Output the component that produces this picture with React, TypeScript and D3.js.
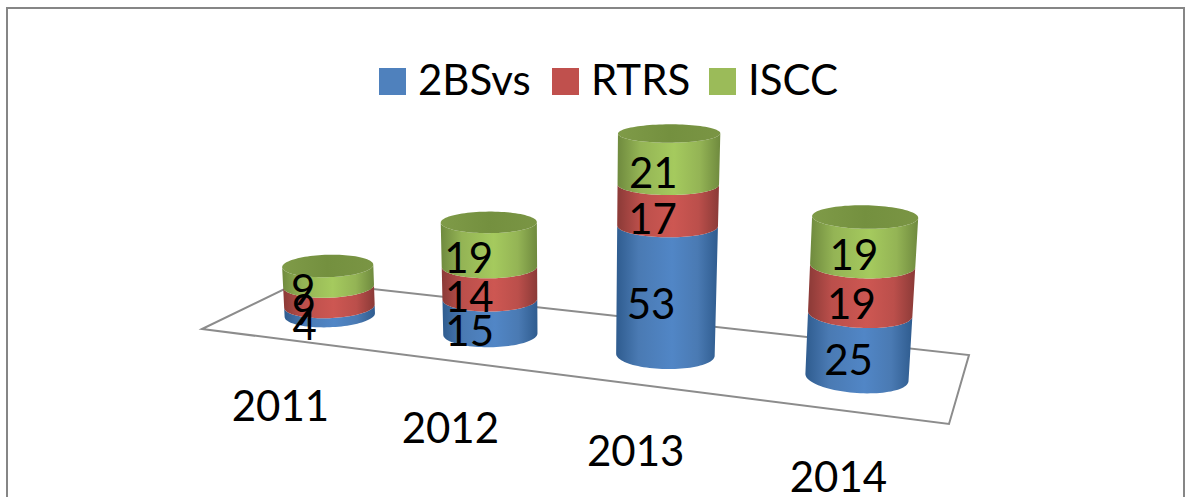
import React from 'react';
import * as d3 from 'd3';

// Chart data
const years = ['2011', '2012', '2013', '2014'];
const seriesNames = ['2BSvs', 'RTRS', 'ISCC'];
const bsvsValues = [4, 15, 53, 25];
const rtrsValues = [9, 14, 17, 19];
const isccValues = [9, 19, 21, 19];

const WIDTH = 1186;
const HEIGHT = 497;

// Palette per series: edge, body, highlight, lid
const palette = [
  { key: 'blue', edge: '#2f5c8f', body: '#4a7ab3', light: '#5186c6', swatch: '#4f81bd' },
  { key: 'red', edge: '#8b3a37', body: '#bb4f4b', light: '#cd5752', swatch: '#c0504d' },
  { key: 'green', edge: '#6f8a3e', body: '#94b455', light: '#a5ca5e', swatch: '#9bbb59' },
];

// Floor corners in screen space, used to build the perspective mapping
const floor = [
  [202, 329],
  [949, 424],
  [969, 355],
  [301, 281],
];

const makeHomography = (p: number[][]) => {
  const [[x0, y0], [x1, y1], [x2, y2], [x3, y3]] = p;
  const dx1 = x1 - x2;
  const dx2 = x3 - x2;
  const dy1 = y1 - y2;
  const dy2 = y3 - y2;
  const sx = x0 - x1 + x2 - x3;
  const sy = y0 - y1 + y2 - y3;
  const den = dx1 * dy2 - dx2 * dy1;
  const g = (sx * dy2 - dx2 * sy) / den;
  const h = (dx1 * sy - sx * dy1) / den;
  const a = x1 - x0 + g * x1;
  const b = x3 - x0 + h * x3;
  const d = y1 - y0 + g * y1;
  const e = y3 - y0 + h * y3;
  return (u: number, v: number) => {
    const w = g * u + h * v + 1;
    return { x: (a * u + b * v + x0) / w, y: (d * u + e * v + y0) / w, scale: 1 / w };
  };
};

const toScreen = makeHomography(floor);

const uScale = d3.scaleBand<string>().domain(years).range([0, 1]);
const heightScale = d3.scaleLinear().domain([0, 100]).range([0, 232]);
const radiusScale = 47;
const BASE_DROP = 2.5;
const FONT_SIZE = 42;

// Vertical lines converge to a vanishing point far below the chart
const VANISH_X = 570;
const VANISH_Y = 6000;

const ringAt = (cx: number, baseY: number, r: number, h: number) => {
  const y = baseY - h;
  const f = (VANISH_Y - baseY) / (VANISH_Y - y);
  const k = 1 / f;
  const x = VANISH_X + (cx - VANISH_X) * k;
  const rx = r * k;
  const ry = rx * (0.18 + (y - 134) * 0.0005);
  const tilt = (x - VANISH_X) * (y - 168) * 1.1e-6;
  return { x, y, rx, ry, tilt };
};

type Ring = ReturnType<typeof ringAt>;

const arcPoint = (ring: Ring, t: number): [number, number] => {
  const px = ring.rx * Math.cos(t);
  return [ring.x + px, ring.y + ring.ry * Math.sin(t) + px * ring.tilt];
};

const sweep = d3.range(0, 49).map(i => (i / 48) * Math.PI);
const fullSweep = d3.range(0, 97).map(i => (i / 48) * Math.PI);
const pathGen = d3.line();

const stackRows = years.map((year, i) => ({
  year,
  s0: bsvsValues[i],
  s1: rtrsValues[i],
  s2: isccValues[i],
}));
const stacked = d3.stack<any>().keys(['s0', 's1', 's2'])(stackRows);

const labelX = d3.scaleLinear().domain([328, 857]).range([278.5, 838.5]);
const labelDrop = d3.scaleLinear().domain([316, 378]).range([106, 115]);
const valueShift = d3.scaleLinear().domain([328, 857]).range([-25, -10]);

const legendSwatchX = [379, 552, 709];

const App: React.FC = () => {
  const bars = years.map((year, i) => {
    const p = toScreen((uScale(year) as number) + uScale.bandwidth() / 2, 0.5);
    const base = { ...p, y: p.y + BASE_DROP };
    return { year, i, base, r: radiusScale * base.scale };
  });

  return (
    <svg
      width={WIDTH}
      height={HEIGHT}
      style={{ position: 'absolute', left: 0, top: 0, display: 'block', fontFamily: 'Lato, sans-serif' }}
    >
      <defs>
        {palette.map(c => (
          <linearGradient key={c.key} id={`side-${c.key}`} x1="0" x2="1" y1="0" y2="0">
            <stop offset="0" stopColor={c.edge} />
            <stop offset="0.22" stopColor={c.body} />
            <stop offset="0.55" stopColor={c.light} />
            <stop offset="0.8" stopColor={c.body} />
            <stop offset="1" stopColor={c.edge} />
          </linearGradient>
        ))}
        <linearGradient id="lid" x1="0" x2="1" y1="0" y2="0">
          <stop offset="0" stopColor="#7f9b48" />
          <stop offset="0.5" stopColor="#74903f" />
          <stop offset="1" stopColor="#7a9544" />
        </linearGradient>
      </defs>

      <rect x={0} y={0} width={WIDTH} height={HEIGHT} fill="#ffffff" />
      <rect x={7} y={8} width={1177} height={HEIGHT} fill="none" stroke="#868686" strokeWidth={2} />

      <path
        d={(pathGen(floor as [number, number][]) as string) + 'Z'}
        fill="none"
        stroke="#8c8c8c"
        strokeWidth={2}
      />

      {bars.map(({ year, i, base, r }) => {
        const k = base.scale;
        const lidRing = ringAt(base.x, base.y, r, heightScale(stacked[2][i][1]) * k);
        return (
          <g key={year}>
            {stacked.map((layer, s) => {
              const low = ringAt(base.x, base.y, r, heightScale(layer[i][0]) * k);
              const high = ringAt(base.x, base.y, r, heightScale(layer[i][1]) * k);
              const outline = [
                ...sweep.map(t => arcPoint(low, t)),
                ...sweep.slice().reverse().map(t => arcPoint(high, t)),
              ];
              return (
                <path
                  key={seriesNames[s]}
                  d={(pathGen(outline) as string) + 'Z'}
                  fill={`url(#side-${palette[s].key})`}
                />
              );
            })}
            <path d={(pathGen(fullSweep.map(t => arcPoint(lidRing, t))) as string) + 'Z'} fill="url(#lid)" />
          </g>
        );
      })}

      {bars.map(({ year, i, base, r }) => {
        const k = base.scale;
        return stacked.map((layer, s) => {
          const mid = ringAt(base.x, base.y, r, (heightScale(layer[i][0]) + heightScale(layer[i][1])) * 0.5 * k);
          return (
            <text
              key={`${year}-${s}`}
              x={mid.x + valueShift(base.x)}
              y={mid.y + 29}
              textAnchor="middle"
              fontSize={FONT_SIZE}
              fill="#000000"
            >
              {layer[i][1] - layer[i][0]}
            </text>
          );
        });
      })}

      {bars.map(({ year, base }) => (
        <text
          key={year}
          x={labelX(base.x)}
          y={base.y + labelDrop(base.y)}
          textAnchor="middle"
          fontSize={FONT_SIZE}
          fill="#000000"
        >
          {year}
        </text>
      ))}

      {seriesNames.map((name, s) => (
        <g key={name} transform={`translate(${legendSwatchX[s]},68)`}>
          <rect width={27} height={27} fill={palette[s].swatch} />
          <text x={39} y={27} fontSize={FONT_SIZE} fill="#000000">
            {name}
          </text>
        </g>
      ))}
    </svg>
  );
};

export default App;
